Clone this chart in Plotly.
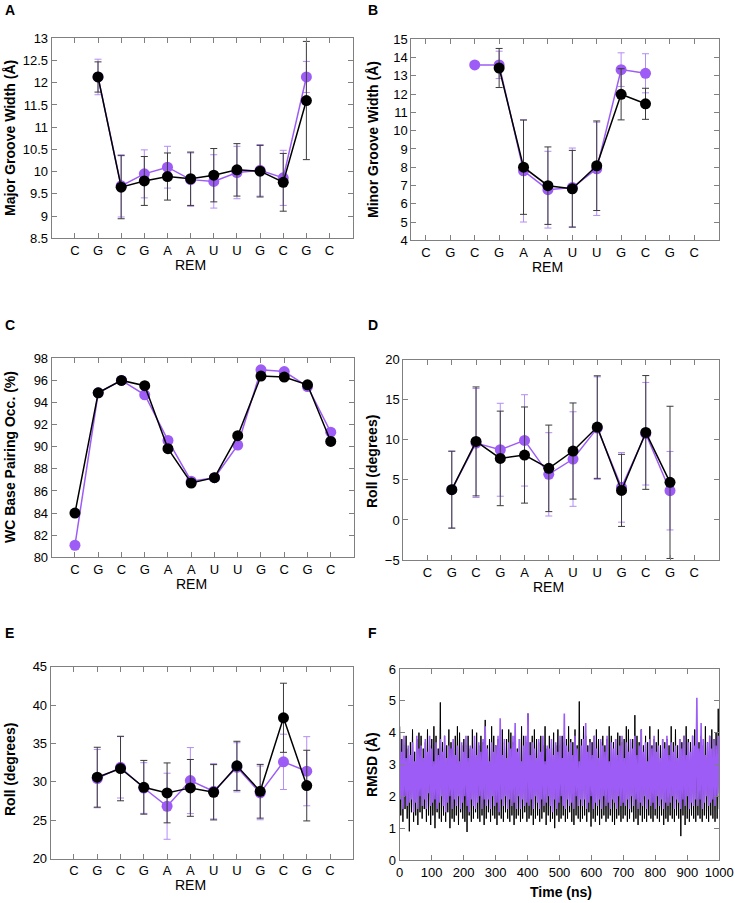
import plotly.graph_objects as go

W, H = 735, 903
FONT = "Liberation Sans, Arial, sans-serif"
PURPLE = "#9d5cf5"
PURPLE_ERR = "#b48cf7"
BLACK = "#000000"
BLACK_ERR = "#3a3a3a"

cats = ["C", "G", "C", "G", "A", "A", "U", "U", "G", "C", "G", "C"]
pos = list(range(len(cats)))

# Panel A - Major groove width
major_black = [None, 12.13, 9.65, 9.79, 9.89, 9.84, 9.92, 10.04, 10.01, 9.76, 11.60, None]
major_black_sd = [0, 0.34, 0.71, 0.55, 0.53, 0.60, 0.60, 0.59, 0.58, 0.65, 1.33, 0]
major_purple = [None, 12.13, 9.68, 9.95, 10.10, 9.82, 9.78, 9.98, 10.03, 9.86, 12.13, None]
major_purple_sd = [0, 0.40, 0.70, 0.54, 0.47, 0.60, 0.60, 0.59, 0.58, 0.62, 0.35, 0]

# Panel B - Minor groove width
minor_black = [None, None, None, 13.43, 8.00, 6.99, 6.82, 8.08, 11.99, 11.47, None, None]
minor_black_sd = [0, 0, 0, 1.07, 2.58, 2.12, 2.10, 2.45, 1.40, 0.85, 0, 0]
minor_purple = [None, None, 13.60, 13.60, 7.80, 6.77, 6.89, 7.91, 13.34, 13.14, None, None]
minor_purple_sd = [0, 0, 0, 0.75, 2.80, 2.10, 2.16, 2.55, 0.92, 1.07, 0, 0]

# Panel C - WC base pairing occupancy
wc_black = [84.0, 94.88, 96.0, 95.52, 89.82, 86.72, 87.2, 91.0, 96.39, 96.3, 95.6, 90.48]
wc_purple = [81.09, 94.88, 96.0, 94.7, 90.57, 86.88, 87.2, 90.15, 96.96, 96.8, 95.45, 91.32]

# Panel D - Roll
rollD_black = [None, 3.78, 9.80, 7.68, 8.10, 6.44, 8.60, 11.59, 3.69, 10.92, 4.69, None]
rollD_black_sd = [0, 4.8, 6.8, 5.9, 6.0, 5.4, 6.0, 6.4, 4.5, 7.1, 9.5, 0]
rollD_purple = [None, 3.78, 9.60, 8.76, 9.93, 5.69, 7.60, 11.46, 4.07, 10.76, 3.65, None]
rollD_purple_sd = [0, 4.8, 6.8, 5.8, 5.7, 5.2, 5.9, 6.4, 4.35, 6.4, 4.9, 0]

# Panel E - Roll
rollE_black = [None, 30.61, 31.74, 29.30, 28.57, 29.22, 28.65, 32.09, 28.78, 38.35, 29.52, None]
rollE_black_sd = [0, 3.9, 4.2, 3.5, 3.9, 3.7, 3.6, 3.2, 3.5, 4.5, 4.6, 0]
rollE_purple = [None, 30.43, 31.90, 29.20, 26.83, 30.17, 28.78, 31.90, 28.57, 32.61, 31.39, None]
rollE_purple_sd = [0, 3.8, 4.0, 3.3, 4.3, 4.3, 3.6, 3.2, 3.5, 3.6, 4.5, 0]

# Panel F - RMSD time series
rmsd_black = [
    4.2, 1.4, 3.8, 1.2, 3.6, 1.6, 3.9, 1.3, 3.5, 0.9,
    3.7, 1.5, 4.1, 1.2, 3.4, 1.4, 3.8, 1.1, 4.0, 1.5,
    3.9, 1.3, 3.5, 1.6, 3.7, 1.2, 4.1, 1.4, 3.6, 1.1,
    3.8, 1.4, 4.2, 1.0, 3.9, 1.5, 3.5, 1.3, 4.95, 1.2,
    3.7, 1.4, 3.9, 1.2, 3.6, 1.5, 4.1, 1.0, 3.7, 1.3,
    3.5, 1.2, 3.9, 1.4, 4.2, 1.1, 4.0, 1.5, 3.6, 1.3,
    3.8, 1.2, 3.6, 0.88, 3.9, 1.4, 3.5, 1.2, 4.1, 1.3,
    3.7, 1.5, 4.0, 1.3, 3.6, 1.2, 3.9, 1.4, 3.7, 1.1,
    4.4, 1.3, 3.6, 1.5, 3.8, 1.2, 4.2, 1.4, 3.9, 1.3,
    3.6, 1.1, 3.8, 1.4, 3.5, 1.3, 4.1, 1.2, 3.7, 1.5,
    3.8, 1.3, 4.1, 1.2, 4.0, 1.4, 3.7, 1.1, 3.9, 1.3,
    3.5, 1.4, 3.8, 1.2, 4.2, 1.3, 3.9, 1.5, 3.7, 1.2,
    4.6, 1.3, 3.7, 1.4, 3.9, 1.1, 4.1, 1.3, 3.8, 1.4,
    3.7, 1.2, 3.9, 1.3, 3.6, 1.5, 4.2, 1.1, 3.5, 1.4,
    3.9, 1.2, 3.7, 1.3, 4.0, 1.0, 3.6, 1.4, 4.1, 1.2,
    3.6, 1.3, 3.9, 1.4, 3.7, 1.2, 3.8, 1.3, 4.2, 1.5,
    3.8, 1.2, 3.7, 1.1, 4.1, 1.4, 3.6, 1.3, 4.98, 1.2,
    3.8, 1.3, 4.2, 1.4, 3.9, 1.2, 3.6, 1.5, 3.8, 1.05,
    3.7, 1.3, 3.9, 1.2, 4.1, 1.4, 3.8, 1.1, 3.7, 1.3,
    3.9, 1.4, 3.6, 1.2, 3.8, 1.3, 4.2, 1.4, 3.9, 1.2,
    3.7, 1.1, 3.8, 1.3, 4.0, 1.4, 3.9, 1.2, 3.7, 1.3,
    3.8, 1.4, 4.2, 1.2, 4.1, 1.3, 3.7, 1.5, 3.8, 1.2,
    4.55, 1.3, 3.9, 1.1, 3.7, 1.4, 4.1, 1.2, 3.6, 1.3,
    3.9, 1.2, 3.7, 1.4, 4.2, 1.3, 3.6, 1.2, 3.8, 1.4,
    3.7, 1.3, 4.1, 1.2, 3.6, 1.4, 3.8, 1.1, 3.7, 1.3,
    3.8, 1.2, 3.6, 1.4, 4.2, 1.3, 3.7, 1.2, 4.1, 1.4,
    3.6, 1.3, 3.8, 0.75, 3.7, 1.4, 3.9, 1.1, 4.2, 1.3,
    3.8, 1.2, 3.7, 1.4, 3.9, 1.3, 4.1, 1.2, 3.8, 1.4,
    3.7, 1.3, 3.9, 1.2, 3.6, 1.4, 4.2, 1.3, 3.7, 1.2,
    3.9, 1.4, 4.1, 1.3, 3.8, 1.2, 4.0, 1.3, 4.75, 1.6,
]
rmsd_purple = [
    3.8, 1.9, 3.4, 1.6, 3.9, 2.0, 3.2, 1.7, 3.6, 1.8,
    3.3, 1.9, 3.7, 1.5, 3.1, 1.8, 3.9, 1.6, 3.5, 2.0,
    3.6, 1.7, 3.2, 1.9, 3.8, 1.6, 3.4, 2.1, 3.9, 1.7,
    3.5, 1.8, 3.1, 1.9, 3.7, 1.6, 3.3, 1.8, 3.8, 2.0,
    3.4, 1.7, 3.9, 1.5, 3.2, 1.8, 3.6, 2.0, 3.5, 1.6,
    3.8, 1.9, 3.3, 1.7, 3.6, 2.0, 3.1, 1.6, 3.7, 1.8,
    3.4, 2.0, 3.9, 1.7, 3.2, 1.5, 3.6, 1.9, 3.5, 1.7,
    3.9, 1.6, 3.3, 1.8, 3.7, 2.0, 3.4, 1.6, 3.8, 1.9,
    4.2, 1.7, 3.5, 1.9, 3.1, 1.6, 3.7, 2.0, 3.4, 1.7,
    3.6, 1.8, 3.9, 1.5, 4.45, 1.9, 3.3, 1.7, 3.8, 2.0,
    3.2, 1.6, 3.7, 1.9, 3.5, 1.7, 3.9, 1.8, 4.3, 1.6,
    3.4, 2.0, 3.8, 1.6, 3.1, 1.9, 3.6, 1.7, 3.9, 1.8,
    4.6, 1.7, 3.3, 1.9, 3.7, 1.6, 3.5, 2.0, 3.2, 1.8,
    3.8, 1.6, 3.4, 1.9, 3.9, 1.7, 3.1, 1.8, 3.6, 2.0,
    3.5, 1.7, 3.8, 1.5, 3.3, 1.9, 3.7, 1.6, 3.4, 1.8,
    3.9, 2.0, 3.2, 1.7, 4.6, 1.6, 3.6, 1.9, 3.4, 1.7,
    3.7, 1.8, 3.3, 1.6, 3.9, 2.0, 3.5, 1.7, 3.1, 1.9,
    3.6, 1.7, 3.8, 1.9, 4.3, 1.6, 3.4, 1.8, 3.7, 2.0,
    3.3, 1.6, 3.9, 1.8, 3.5, 1.7, 3.2, 1.9, 3.8, 1.6,
    3.6, 2.0, 3.4, 1.7, 3.9, 1.8, 3.1, 1.6, 3.7, 1.9,
    3.5, 1.8, 3.8, 1.6, 3.3, 2.0, 3.6, 1.7, 3.9, 1.8,
    3.2, 1.7, 3.7, 1.9, 3.4, 1.6, 3.8, 2.0, 3.5, 1.7,
    3.9, 1.9, 3.3, 1.6, 3.6, 1.8, 4.1, 1.7, 3.4, 2.0,
    3.7, 1.6, 3.1, 1.9, 3.8, 1.7, 3.5, 1.8, 3.9, 1.6,
    3.4, 2.0, 3.6, 1.7, 3.2, 1.9, 3.8, 1.6, 3.5, 1.8,
    3.9, 1.7, 3.3, 1.8, 3.7, 2.0, 3.4, 1.6, 3.6, 1.9,
    3.2, 1.8, 3.8, 1.6, 3.5, 1.9, 3.9, 1.7, 3.3, 2.0,
    3.7, 1.6, 3.4, 1.8, 3.9, 1.7, 3.6, 1.9, 5.1, 1.7,
    3.5, 1.9, 4.3, 1.6, 3.8, 1.8, 3.3, 2.0, 3.7, 1.7,
    3.9, 1.8, 3.5, 1.9, 3.8, 1.7, 3.6, 2.0, 3.9, 2.1,
]
T_END = 1000.0


def px_x(px):
    return px / W


def px_y(py):
    return 1 - py / H


fig = go.Figure()


def add_pair(axn, yb, yp, sdb=None, sdp=None):
    xa = "x" if axn == 1 else f"x{axn}"
    ya = "y" if axn == 1 else f"y{axn}"
    for y, sd, col, ecol in ((yp, sdp, PURPLE, PURPLE_ERR), (yb, sdb, BLACK, BLACK_ERR)):
        tr = dict(x=pos, y=y, xaxis=xa, yaxis=ya, mode="lines+markers",
                  line=dict(color=col, width=1.5),
                  marker=dict(color=col, size=11),
                  showlegend=False, connectgaps=False)
        if sd is not None:
            tr["error_y"] = dict(type="data", array=sd, visible=True,
                                 color=ecol, thickness=1, width=3.5)
        fig.add_trace(go.Scatter(**tr))


add_pair(1, major_black, major_purple, major_black_sd, major_purple_sd)
add_pair(2, minor_black, minor_purple, minor_black_sd, minor_purple_sd)
add_pair(3, wc_black, wc_purple)
add_pair(4, rollD_black, rollD_purple, rollD_black_sd, rollD_purple_sd)
add_pair(5, rollE_black, rollE_purple, rollE_black_sd, rollE_purple_sd)

n = len(rmsd_black)
t_b = [i * T_END / (n - 1) for i in range(n)]
n2 = len(rmsd_purple)
t_p = [i * T_END / (n2 - 1) for i in range(n2)]
fig.add_trace(go.Scatter(x=t_b, y=rmsd_black, xaxis="x6", yaxis="y6", mode="lines",
                         line=dict(color=BLACK, width=1), showlegend=False))
fig.add_trace(go.Scatter(x=t_p, y=rmsd_purple, xaxis="x6", yaxis="y6", mode="lines",
                         line=dict(color=PURPLE, width=1.6), showlegend=False))

AX_COL = "#808080"
TICKFONT = dict(family=FONT, size=13, color="#000")


def base_axis(domain, anchor, rng):
    return dict(domain=domain, anchor=anchor, range=rng, showline=True,
                linecolor=AX_COL, linewidth=1, mirror="ticks", ticks="inside",
                ticklen=5, tickcolor=AX_COL, tickwidth=1, showgrid=False,
                zeroline=False, tickfont=TICKFONT, fixedrange=True,
                automargin=False)


# panel boxes in pixels: (left, right, top, bottom)
boxes = {
    1: (51.7, 352.7, 38.3, 238.3),
    2: (411.3, 718.7, 39.3, 240.3),
    3: (51.7, 354.0, 358.3, 557.3),
    4: (403.3, 718.5, 359.7, 560.0),
    5: (50.7, 353.3, 666.7, 858.7),
    6: (399.7, 719.3, 669.0, 860.0),
}
xranges = {1: [-1, 12], 2: [-0.6, 12], 3: [-1, 12], 4: [-1, 12], 5: [-1, 12], 6: [0, 1000]}
yranges = {1: [8.5, 13], 2: [4, 15], 3: [80, 98], 4: [-5, 20], 5: [20, 45], 6: [0, 6]}
ydticks = {1: 0.5, 2: 1, 3: 2, 4: 5, 5: 5, 6: 1}

layout = dict(width=W, height=H, margin=dict(l=0, r=0, t=0, b=0, autoexpand=False),
              paper_bgcolor="white", plot_bgcolor="white", showlegend=False)

for k, (l, r, t, b) in boxes.items():
    xn = "xaxis" if k == 1 else f"xaxis{k}"
    yn = "yaxis" if k == 1 else f"yaxis{k}"
    xa_ref = "x" if k == 1 else f"x{k}"
    ya_ref = "y" if k == 1 else f"y{k}"
    xa = base_axis([px_x(l), px_x(r)], ya_ref, xranges[k])
    if k == 6:
        xa.update(tick0=0, dtick=100)
    else:
        xa.update(tickmode="array", tickvals=pos, ticktext=cats)
    ya = base_axis([px_y(b), px_y(t)], xa_ref, yranges[k])
    ya.update(tick0=yranges[k][0], dtick=ydticks[k])
    layout[xn] = xa
    layout[yn] = ya

ann = []
letters = [("A", 3, 10), ("B", 366, 10), ("C", 3, 325), ("D", 366, 325), ("E", 3, 633), ("F", 366, 633)]
for s, x, y in letters:
    ann.append(dict(text=f"<b>{s}</b>", x=px_x(x), y=px_y(y), xref="paper", yref="paper",
                    xanchor="left", yanchor="middle", showarrow=False,
                    font=dict(family=FONT, size=14, color="#000")))

ytitles = [("Major Groove Width (Å)", 10, 138), ("Minor Groove Width (Å)", 373, 140),
           ("WC Base Pairing Occ. (%)", 10, 457), ("Roll (degrees)", 372, 462),
           ("Roll (degrees)", 10, 770), ("RMSD (Å)", 372, 765)]
for s, x, y in ytitles:
    ann.append(dict(text=f"<b>{s}</b>", x=px_x(x), y=px_y(y), xref="paper", yref="paper",
                    xanchor="center", yanchor="middle", textangle=-90, showarrow=False,
                    font=dict(family=FONT, size=14, color="#000")))

rem_pos = [(1, 265), (2, 267.5), (3, 583.5), (4, 587), (5, 885)]
for k, y in rem_pos:
    ann.append(dict(text="REM", x=5, xref="x" if k == 1 else f"x{k}", y=px_y(y), yref="paper",
                    xanchor="center", yanchor="middle", showarrow=False,
                    font=dict(family=FONT, size=14, color="#000")))

ann.append(dict(text="<b>Time (ns)</b>", x=px_x(561), y=px_y(892), xref="paper", yref="paper",
                xanchor="center", yanchor="middle", showarrow=False,
                font=dict(family=FONT, size=14, color="#000")))

layout["annotations"] = ann
fig.update_layout(**layout)
fig.write_html("out.html",
               config={"displayModeBar": False, "staticPlot": True},
               post_script="document.body.style.margin='0';document.body.style.padding='0';")
